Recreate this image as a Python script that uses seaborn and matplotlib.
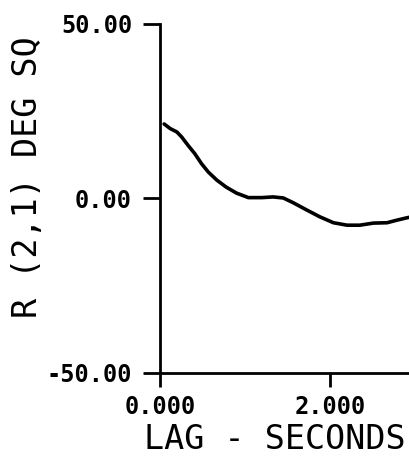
import matplotlib
matplotlib.use('Agg')
import matplotlib.pyplot as plt
import seaborn as sns
import pandas as pd

#values
lag_sec = [0.05, 0.12, 0.20, 0.255, 0.33, 0.41, 0.49, 0.57, 0.67, 0.78, 0.90,
           1.04, 1.20, 1.33, 1.45, 1.57, 1.73, 1.88, 2.04, 2.20, 2.35, 2.51,
           2.67, 2.78, 2.90, 2.94]
r21 = [21.3, 20.0, 19.0, 17.6, 15.2, 12.8, 9.9, 7.5, 5.2, 3.2, 1.5,
       0.2, 0.2, 0.4, 0.1, -1.3, -3.4, -5.3, -7.0, -7.7, -7.7, -7.1,
       -7.0, -6.3, -5.6, -5.4]
y_ticks = [-50, 0, 50]
y_ticklabels = ['-50.00', '0.00', '50.00']
x_ticks = [0, 2]
x_ticklabels = ['0.000', '2.000']

df = pd.DataFrame({'lag': lag_sec, 'r': r21})

sns.set_style('ticks')
plt.rcParams['font.family'] = ['DejaVu Sans Mono', 'DejaVu Sans']

fig = plt.figure(figsize=(4.10, 4.58), dpi=100)
ax = fig.add_axes([0.39, 0.186, 0.61, 0.762])

sns.lineplot(data=df, x='lag', y='r', color='black', linewidth=2.6, ax=ax)

ax.set_xlim(0, 2.94)
ax.set_ylim(-50, 50)
ax.set_xticks(x_ticks)
ax.set_xticklabels(x_ticklabels, fontsize=17, fontweight='semibold')
ax.set_yticks(y_ticks)
ax.set_yticklabels(y_ticklabels, fontsize=17, fontweight='semibold')

#plotter style axes
for side in ['top', 'right']:
    ax.spines[side].set_visible(False)
for side in ['left', 'bottom']:
    ax.spines[side].set_linewidth(2.0)
    ax.spines[side].set_color('black')
ax.tick_params(axis='y', length=12, width=2.0, pad=8, colors='black')
ax.tick_params(axis='x', length=10, width=2.0, pad=6, colors='black')

ax.set_xlabel('LAG - SECONDS', fontsize=24, color='black')
ax.set_ylabel('R (2,1) DEG SQ', fontsize=24, color='black')
ax.xaxis.set_label_coords(0.46, -0.145)
ax.yaxis.set_label_coords(-0.465, 0.56)

fig.savefig('out.png', dpi=100, facecolor='white')
